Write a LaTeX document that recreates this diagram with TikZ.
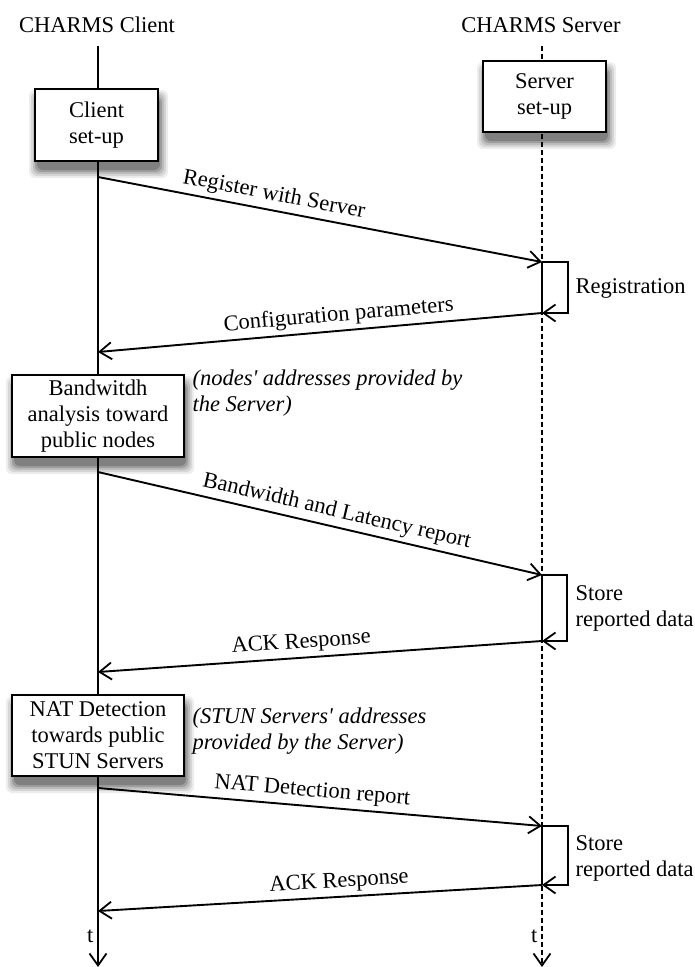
\documentclass[tikz,border=0pt]{standalone}
\usepackage{fontspec}
\setmainfont{Liberation Serif}
\usetikzlibrary{arrows.meta}
\definecolor{shA}{gray}{0.93}
\definecolor{shB}{gray}{0.84}
\definecolor{shC}{gray}{0.74}
\definecolor{shD}{gray}{0.62}
\definecolor{shE}{gray}{0.50}
\tikzset{shadowlayer/.style={rounded corners=6pt, draw=none}}
\newcommand\mkshadow[4]{%
  \path[fill=shA, shadowlayer] (#1-6,#2+1) rectangle (#3+10,#4+17);
  \path[fill=shB, shadowlayer] (#1-4,#2+3) rectangle (#3+8,#4+15);
  \path[fill=shC, shadowlayer] (#1-2,#2+5) rectangle (#3+6,#4+13);
  \path[fill=shD, shadowlayer] (#1,#2+7) rectangle (#3+4,#4+11);
  \path[fill=shE, shadowlayer] (#1+2,#2+8) rectangle (#3+2,#4+9);
}
\begin{document}
\begin{tikzpicture}[x=1pt,y=-1pt,
  every node/.style={font=\fontsize{22.5}{26}\selectfont},
  tip/.style={-{Straight Barb[length=12pt,width=17pt,line width=1.8pt]}},
  msg/.style={line width=1.9pt, tip},
  lifeline/.style={line width=1.9pt, tip},
  box/.style={draw, line width=2pt, fill=white, align=center, inner sep=0pt},
  lbl/.style={above, sloped, inner sep=4pt},
  note/.style={anchor=west, align=left, font=\fontsize{22.5}{26}\selectfont\itshape}
]
\useasboundingbox (0,0) rectangle (695,967);

% shadows of the boxes
\mkshadow{35}{89}{158}{161}
\mkshadow{483}{61}{606}{132}
\mkshadow{12}{375}{184}{457}
\mkshadow{12}{695}{184}{776}

% titles
\node[anchor=base] (ctitle) at (97,32) {CHARMS Client};
\node[anchor=base] (stitle) at (541,32) {CHARMS Server};

% lifeline coordinates
\coordinate (ctop) at (98,46);
\coordinate (cbot) at (98,967);
\coordinate (stop) at (542,46);
\coordinate (sbot) at (542,967);

\coordinate (c1) at (98,177);
\coordinate (s1) at (542,262);
\coordinate (s1b) at (542,313);
\coordinate (c2) at (98,352);
\coordinate (c3) at (98,472);
\coordinate (s3) at (542,575);
\coordinate (s3b) at (542,641);
\coordinate (c4) at (98,672);
\coordinate (c5) at (98,788);
\coordinate (s5) at (542,826);
\coordinate (s5b) at (542,885);
\coordinate (c6) at (98,911);

% lifelines
\draw[lifeline] (ctop) -- (cbot);
\draw[lifeline, line width=1.6pt, dash pattern=on 5pt off 3pt] (stop) -- (sbot);

% boxes
\node[box, minimum width=123pt, minimum height=72pt] (cset) at (96.5,125) {Client\\set-up};
\node[box, minimum width=123pt, minimum height=71pt] (sset) at (544.5,96.5) {Server\\set-up};
\node[box, minimum width=172pt, minimum height=82pt] (bw) at (98,416) {Bandwitdh\\analysis toward\\public nodes};
\node[box, minimum width=172pt, minimum height=81pt] (nat) at (98,735.5) {NAT Detection\\towards public\\STUN Servers};

% notes
\node[note] (n1) at (189,393) {(nodes\textquotesingle{} addresses provided by\\the Server)};
\node[note] (n2) at (189,731) {(STUN Servers\textquotesingle{} addresses\\provided by the Server)};

% messages
\draw[msg] (c1) -- node[lbl, pos=0.39] {Register with Server} (s1);
\draw[line width=1.9pt] (s1) -- (s1b);
\draw[msg] (s1) -- ++(26,0) |- (s1b);
\node[anchor=west] (reg) at (572,288) {Registration};
\draw[msg] (s1b) -- node[lbl, pos=0.455] {Configuration parameters} (c2);

\draw[msg] (c3) -- node[lbl, pos=0.53] {Bandwidth and Latency report} (s3);
\draw[line width=1.9pt] (s3) -- (s3b);
\draw[msg] (s3) -- ++(25,0) |- (s3b);
\node[anchor=west, align=left] (st1) at (572,608) {Store\\reported data};
\draw[msg] (s3b) -- node[lbl, pos=0.54] {ACK Response} (c4);

\draw[msg] (c5) -- node[lbl, pos=0.48] {NAT Detection report} (s5);
\draw[line width=1.9pt] (s5) -- (s5b);
\draw[msg] (s5) -- ++(26,0) |- (s5b);
\node[anchor=west, align=left] (st2) at (572,858) {Store\\reported data};
\draw[msg] (s5b) -- node[lbl, pos=0.455] {ACK Response} (c6);

% time labels
\node[anchor=east] (t1) at (97,936) {t};
\node[anchor=east] (t2) at (541,936) {t};
\end{tikzpicture}
\end{document}
